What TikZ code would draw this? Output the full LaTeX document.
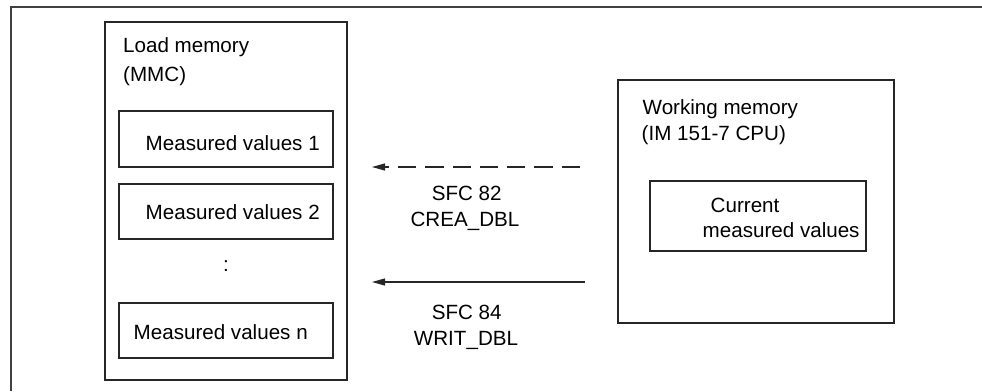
\documentclass[tikz,border=0pt]{standalone}
\usepackage{fontspec}
\setmainfont{Liberation Sans}
\usetikzlibrary{arrows.meta}
\begin{document}
\begin{tikzpicture}[x=1pt,y=-1pt,
  box/.style={draw=black!85, line width=1.1pt, inner sep=0pt, rectangle},
  lbl/.style={inner sep=0pt, font=\fontsize{20.6}{24}\selectfont},
  arr/.style={line width=1.1pt, draw=black!85, -{Triangle[length=13pt,width=7pt]}},
  dasharr/.style={arr, dash pattern=on 18.3pt off 9pt}]
\useasboundingbox (0,0) rectangle (982,391);
% outer frame
\coordinate (fbl) at (11,391);
\coordinate (ftl) at (11,7);
\coordinate (ftr) at (982,7);
\draw[line width=1.4pt, draw=black!75] (fbl) -- (ftl) -- (ftr);
% load memory
\node[box, minimum width=242pt, minimum height=358pt] (lm) at (226,201) {};
\node[box, minimum width=214pt, minimum height=56pt] (mv1) at (226,139) {};
\node[box, minimum width=214pt, minimum height=55pt] (mv2) at (226,211.5) {};
\node[box, minimum width=214pt, minimum height=55pt] (mvn) at (226,330.5) {};
\node[lbl, anchor=base west] (lmt1) at (123,52.5) {Load memory};
\node[lbl, anchor=base west] (lmt2) at (123,81) {(MMC)};
\node[lbl, anchor=base west] (mv1t) at (145.5,150) {Measured values 1};
\node[lbl, anchor=base west] (mv2t) at (145.5,219) {Measured values 2};
\node[lbl, anchor=base west] (mvnt) at (133.5,339) {Measured values n};
\node[lbl, anchor=base] (dots) at (226,271.5) {:};
% working memory
\node[box, minimum width=276pt, minimum height=243pt] (wm) at (756,201.5) {};
\node[box, minimum width=216pt, minimum height=70pt] (cur) at (758,216) {};
\node[lbl, anchor=base west] (wmt1) at (642.5,114) {Working memory};
\node[lbl, anchor=base west] (wmt2) at (641.5,140.7) {(IM 151-7 CPU)};
\node[lbl, anchor=base west] (curt1) at (710.5,212) {Current};
\node[lbl, anchor=base west] (curt2) at (702.5,237.7) {measured values};
% arrows
\coordinate (d1) at (580,167);
\coordinate (d2) at (372,167);
\coordinate (s1) at (585,282);
\coordinate (s2) at (372,282);
\draw[dasharr] (d1) -- (d2);
\draw[arr] (s1) -- (s2);
\node[lbl, anchor=base] (sfc82) at (466.7,200.5) {SFC 82};
\node[lbl, anchor=base] (crea) at (465,226.5) {CREA\_DBL};
\node[lbl, anchor=base] (sfc84) at (466.7,319) {SFC 84};
\node[lbl, anchor=base] (writ) at (466,345) {WRIT\_DBL};
\end{tikzpicture}
\end{document}
